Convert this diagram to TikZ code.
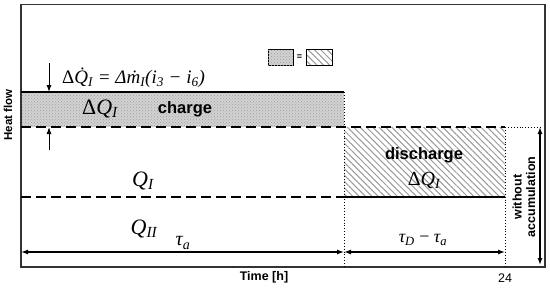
\documentclass[tikz,border=0pt]{standalone}
\usepackage{fontspec}
\setmainfont{Liberation Serif}
\setsansfont{Liberation Sans}
\usetikzlibrary{arrows.meta,patterns,patterns.meta}
\newcommand\itv[1]{{\itshape #1}}
\newcommand\isub[1]{\textsubscript{\itshape #1}}
\begin{document}
\begin{tikzpicture}[x=1pt,y=-1pt,
  frame/.style={draw=black!80,line width=1.4pt},
  dashln/.style={line width=1.8pt,dash pattern=on 10pt off 5pt},
  dotln/.style={line width=0.9pt,dotted},
  solidln/.style={line width=1.6pt},
  arr/.style={line width=1.3pt,{Latex[length=7pt,width=5pt]}-{Latex[length=7pt,width=5pt]}},
  arrone/.style={line width=1pt,-{Latex[length=7pt,width=5pt]}},
  chargefill/.style={fill=gray!35,postaction={pattern=crosshatch dots,pattern color=gray!75}},
  hatchfill/.style={pattern={Lines[angle=-45,distance=4.5pt,line width=1pt]},pattern color=gray!80},
  lbl/.style={font=\fontsize{16.5}{18}\selectfont\bfseries\sffamily},
  axlbl/.style={font=\fontsize{12.5}{14}\selectfont\bfseries\sffamily},
  mth/.style={font=\fontsize{22}{24}\selectfont},
  fml/.style={font=\fontsize{18}{20}\selectfont},
  smlbl/.style={font=\fontsize{12.5}{13.5}\selectfont\bfseries\sffamily,align=center}
]
\useasboundingbox (0,0) rectangle (550,289);
% areas
\fill[chargefill] (21,92) rectangle (344,127);
\fill[hatchfill] (344,127) rectangle (505,197);
% frame
\draw[frame] (21,4.5) rectangle (545,267);
% coordinates
\coordinate (cL) at (21,92);
\coordinate (cR) at (344,92);
\coordinate (d1L) at (21,127);
\coordinate (d1M) at (505,127);
\coordinate (d1R) at (540,127);
\coordinate (d2L) at (21,197);
\coordinate (d2M) at (344,197);
\coordinate (d2R) at (505,197);
\coordinate (vA) at (344,267);
\coordinate (vB) at (505,267);
\coordinate (aL) at (21,252);
\coordinate (aM) at (344,252);
\coordinate (aR) at (505,252);
\coordinate (rB) at (540,265);
\coordinate (q1) at (49,63);
\coordinate (q2) at (49,92);
\coordinate (q3) at (49,150);
\coordinate (q4) at (49,127);
% lines
\draw[solidln] (cL) -- (cR);
\draw[dashln] (d1L) -- (d1M);
\draw[dotln] (d1M) -- (d1R);
\draw[dashln] (d2L) -- (d2M);
\draw[solidln] (d2M) -- (d2R);
\draw[dotln] (cR) -- (vA);
\draw[dotln] (d1M) -- (vB);
% arrows
\draw[arr] (aL) -- (aM);
\draw[arr] (aM) -- (aR);
\draw[arr] (d1R) -- (rB);
\draw[arrone] (q1) -- (q2);
\draw[arrone] (q3) -- (q4);
% legend
\node[draw=black,line width=1pt,chargefill,minimum width=25pt,minimum height=16pt,inner sep=0pt] (leg1) at (280.5,57) {};
\node[font=\fontsize{9}{10}\selectfont\bfseries\sffamily,inner sep=0pt] (eq) at (299.5,57) {=};
\node[draw=black,line width=1pt,hatchfill,minimum width=26pt,minimum height=16pt,inner sep=0pt] (leg2) at (319,57) {};
% texts
\node[fml,font=\fontsize{19}{21}\selectfont,anchor=west,inner sep=0pt] (form) at (62,78) {Δ\.{\itshape Q}\isub{I} = Δ\.{\itshape m}\isub{I}(\itv{i}\textsubscript{3} − \itv{i}\textsubscript{6})};
\node[mth] (dq1) at (100,109) {Δ\itv{Q}\isub{I}};
\node[lbl] (chg) at (185,109) {charge};
\node[mth] (qi) at (143,181) {\itv{Q}\isub{I}};
\node[mth] (qii) at (144,229) {\itv{Q}\isub{II}};
\node[mth,font=\fontsize{20}{22}\selectfont] (ta) at (183,243) {\itv{τ}\isub{a}};
\node[lbl] (dis) at (424,155) {discharge};
\node[mth,font=\fontsize{20}{22}\selectfont] (dq2) at (424,180) {Δ\itv{Q}\isub{I}};
\node[fml] (tdta) at (423,240) {\itv{τ}\isub{D} − \itv{τ}\isub{a}};
\node[axlbl] (time) at (264,277) {Time [h]};
\node[font=\fontsize{12.5}{14}\selectfont\sffamily] (t24) at (505,278) {24};
\node[axlbl,rotate=90,font=\fontsize{11.5}{13}\selectfont\bfseries\sffamily] (hf) at (8,115) {Heat flow};
\node[smlbl,rotate=90] (wa) at (524,197) {without\\accumulation};
\end{tikzpicture}
\end{document}
